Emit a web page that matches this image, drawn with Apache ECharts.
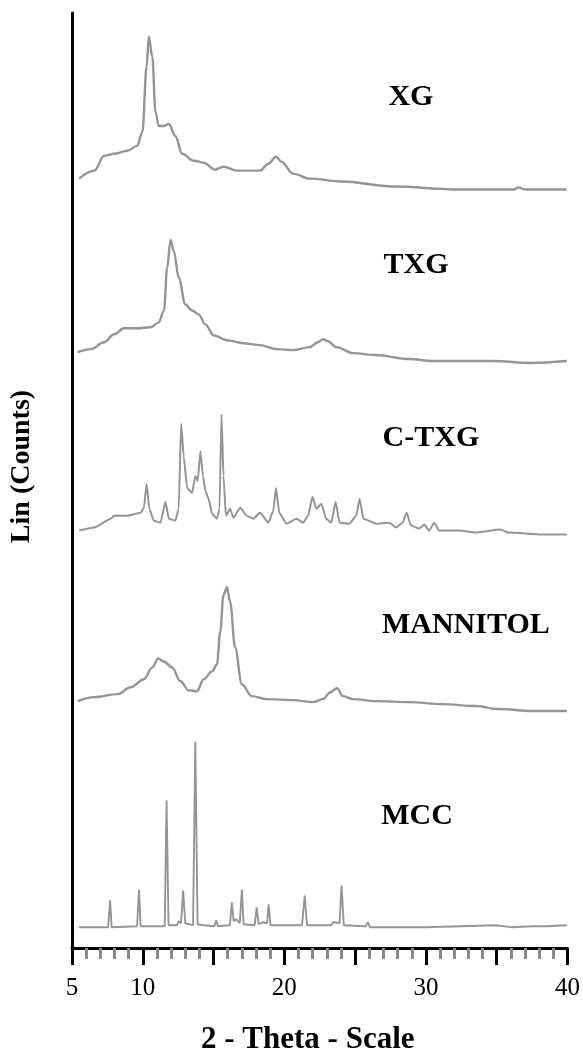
<!DOCTYPE html>
<html>
<head>
<meta charset="utf-8">
<script src="https://cdn.jsdelivr.net/npm/echarts@6/dist/echarts.min.js"></script>
<style>
html,body{margin:0;padding:0;background:#fff;}
#chart{width:583px;height:1060px;}
</style>
</head>
<body>
<div id="chart"></div>
<script>
// 2-theta tick labels shown on the x axis
var tickLabels = [5, 10, 20, 30, 40];
var sampleNames = ['XG', 'TXG', 'C-TXG', 'MANNITOL', 'MCC'];
// vertical offsets (stacking baselines) of each pattern, in Lin (Counts) units
var offsets = [765, 592, 417, 239, 21];

// [2theta, relative intensity above the pattern's own baseline]
var xg = [[5.5,11],[6.57,19],[7.27,34],[7.97,36],[8.9,39],[9.6,44],[9.97,58],[10.27,124],[10.43,154],[10.67,134],[10.9,78],[11.13,64],[11.5,64],[11.84,66],[12.3,54],[12.78,36],[13.6,29],[14.3,27],[15.1,20],[15.7,23],[16.64,19],[18.28,19],[18.87,26],[19.41,33],[19.8,28],[20.6,16],[21.8,11],[24.1,8],[27.65,3],[32.3,0],[36.2,0],[36.55,2],[37.0,0],[39.95,0]];
var txg = [[5.4,9],[6.34,12],[7.27,19],[7.97,27],[8.68,33],[9.6,33],[10.55,34],[11.13,39],[11.5,51],[11.72,94],[11.96,122],[12.19,111],[12.54,84],[13.01,57],[13.48,51],[13.95,47],[14.42,37],[15.0,26],[15.94,21],[17.1,18],[18.28,16],[19.45,12],[20.62,11],[21.8,14],[22.38,19],[22.73,22],[23.08,20],[23.67,14],[24.84,8],[26.48,6],[28.82,2],[30.46,0],[34.68,0],[37.49,-2],[39.95,0]];
var ctxg = [[5.51,4],[6.57,7],[7.74,16],[7.97,19],[8.9,19],[9.85,22],[10.08,27],[10.27,51],[10.46,26],[10.78,14],[11.25,12],[11.6,33],[11.84,16],[12.3,14],[12.54,26],[12.71,112],[12.89,79],[13.13,47],[13.48,42],[13.71,59],[13.88,54],[14.07,84],[14.25,59],[14.42,44],[14.65,36],[14.89,21],[15.24,16],[15.42,26],[15.56,121],[15.7,59],[15.87,19],[16.17,26],[16.4,17],[16.88,27],[17.34,19],[17.81,16],[18.28,22],[18.87,12],[19.22,24],[19.41,47],[19.64,22],[20.15,11],[20.86,16],[21.32,12],[21.68,19],[21.98,38],[22.26,26],[22.62,31],[22.96,16],[23.32,12],[23.62,33],[23.9,12],[24.6,11],[25.08,19],[25.31,36],[25.59,16],[26.48,11],[27.42,12],[27.89,7],[28.36,12],[28.64,22],[28.94,9],[29.53,6],[29.88,10],[30.23,4],[30.58,12],[30.93,4],[32.34,4],[33.51,2],[35.27,5],[35.85,2],[38.19,0],[39.95,0]];
var mannitol = [[5.4,10],[6.57,14],[8.21,17],[9.15,24],[10.08,32],[10.67,44],[11.09,53],[11.49,50],[12.07,44],[12.66,30],[13.24,21],[13.83,20],[14.3,32],[14.89,40],[15.24,47],[15.47,80],[15.7,117],[15.94,125],[16.17,110],[16.52,64],[17.0,27],[17.7,15],[18.75,12],[20.62,11],[22.03,9],[22.73,12],[23.25,19],[23.71,23],[24.14,15],[24.84,12],[26.48,10],[28.82,9],[31.16,7],[33.51,5],[35.15,2],[37.49,0],[39.95,0]];
var mcc = [[5.5,0],[7.55,0],[7.69,27],[7.8,0],[9.6,1],[9.73,38],[9.85,1],[11.55,1],[11.68,128],[11.82,2],[12.4,2],[12.54,6],[12.7,4],[12.85,37],[13.0,4],[13.55,2],[13.71,187],[13.87,3],[14.3,2],[15.05,1],[15.19,7],[15.3,1],[16.15,2],[16.29,25],[16.42,6],[16.6,8],[16.85,4],[17.0,38],[17.12,3],[17.9,2],[18.05,20],[18.18,3],[18.5,5],[18.78,4],[18.89,23],[19.02,2],[21.25,2],[21.44,32],[21.6,2],[23.3,2],[23.43,5],[23.6,5],[23.9,4],[24.04,42],[24.2,2],[25.75,1],[25.89,5],[26.05,0],[30,0],[34.92,2],[36,0],[37.5,1],[38.5,1],[39.95,2]];

var patterns = [xg, txg, ctxg, mannitol, mcc];
// label anchors in data coordinates [2theta, Lin]
var labelAnchors = [[28.94, 858], [29.3, 689], [30.35, 514], [32.82, 326], [29.37, 133]];

var lineWidths = [2.4, 2.4, 2, 2.4, 1.9];
var smoothness = [0.35, 0.35, 0.15, 0.35, 0];

var chart = echarts.init(document.getElementById('chart'), null, {renderer: 'canvas'});
var serif = '"Liberation Serif", "Times New Roman", serif';

var series = patterns.map(function (p, i) {
  return {
    type: 'line',
    name: sampleNames[i],
    data: p.map(function (d) { return [d[0], d[1] + offsets[i]]; }),
    showSymbol: false,
    symbol: 'none',
    smooth: smoothness[i],
    smoothMonotone: 'x',
    lineStyle: {color: '#959595', width: lineWidths[i]},
    z: 2
  };
});

series.push({
  type: 'scatter',
  name: 'labels',
  symbolSize: 1,
  itemStyle: {color: 'rgba(0,0,0,0)', opacity: 1},
  data: labelAnchors.map(function (a, i) { return {value: a, name: sampleNames[i]}; }),
  label: {
    show: true,
    position: 'inside',
    formatter: function (p) { return p.name; },
    fontFamily: serif, fontWeight: 'bold', fontSize: 30, color: '#000',
    opacity: 1, textBorderWidth: 0
  },
  z: 5
});

chart.setOption({
  animation: false,
  backgroundColor: '#fff',
  grid: {left: 72, right: 14, top: 13, bottom: 104, containLabel: false},
  xAxis: {
    type: 'value',
    min: 5, max: 40, interval: 5,
    name: '2 - Theta - Scale',
    nameLocation: 'middle',
    nameGap: 76,
    nameTextStyle: {fontFamily: serif, fontWeight: 'bold', fontSize: 31, color: '#000', padding: [0, 24, 0, 0]},
    axisLine: {show: true, lineStyle: {color: '#000', width: 3}},
    axisTick: {show: true, inside: false, length: 17, lineStyle: {color: '#000', width: 3}},
    minorTick: {show: true, splitNumber: 5, length: 11, lineStyle: {color: '#8a8a8a', width: 3}},
    splitLine: {show: false},
    axisLabel: {
      margin: 28, fontFamily: serif, fontSize: 25, color: '#000',
      showMinLabel: true, showMaxLabel: true,
      formatter: function (v) { return tickLabels.indexOf(v) >= 0 ? String(v) : ''; }
    }
  },
  yAxis: {
    type: 'value',
    min: 0, max: 943,
    name: 'Lin (Counts)',
    nameLocation: 'middle',
    nameGap: 36,
    nameRotate: 90,
    nameTextStyle: {fontFamily: serif, fontWeight: 'bold', fontSize: 28, color: '#000', padding: [0, 0, 0, 28]},
    axisLine: {show: true, lineStyle: {color: '#000', width: 3}},
    axisTick: {show: false},
    axisLabel: {show: false},
    splitLine: {show: false}
  },
  series: series
});
</script>
</body>
</html>
